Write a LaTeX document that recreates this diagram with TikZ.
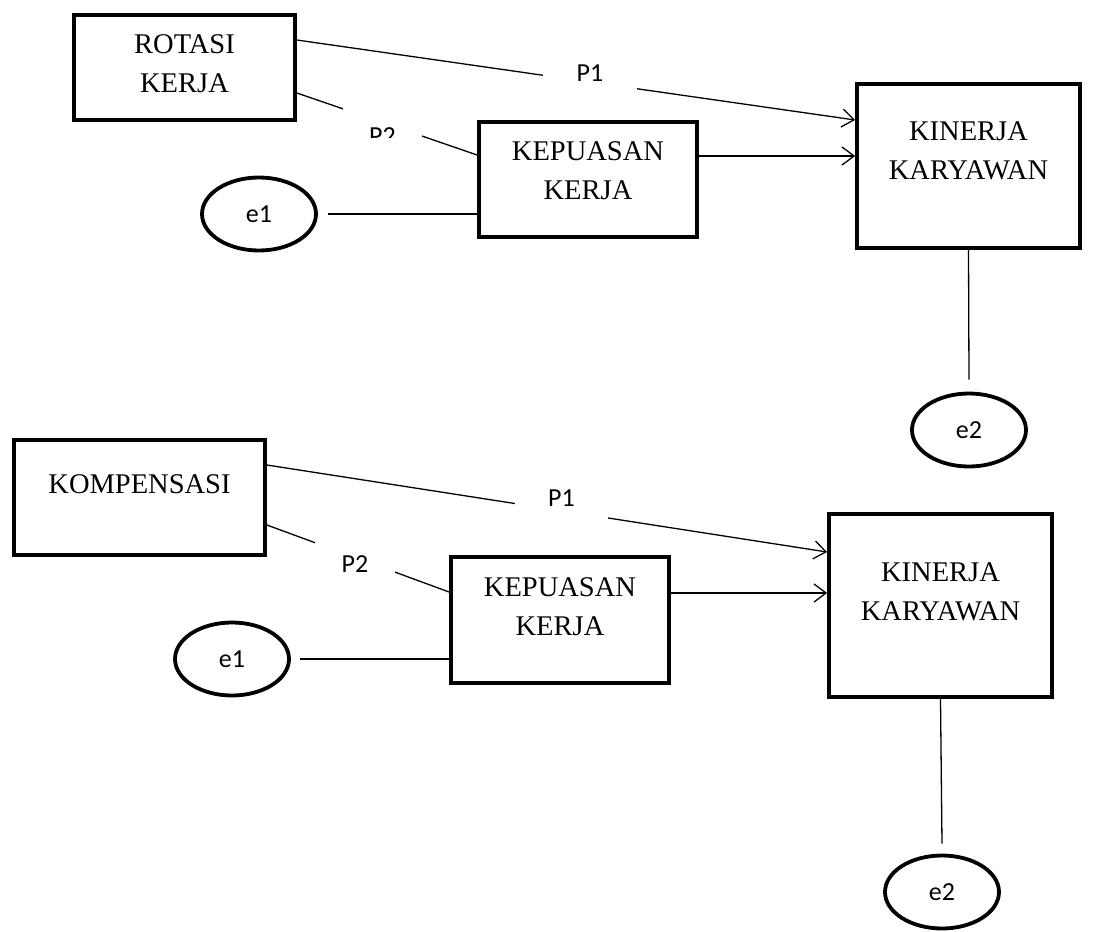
\documentclass[tikz,border=0pt]{standalone}
\usepackage{fontspec}
\setmainfont{Liberation Serif}
\newfontfamily\labelfont{Carlito}
\usetikzlibrary{arrows.meta,shapes.geometric}

\begin{document}
\begin{tikzpicture}[x=1pt,y=-1pt,
  varbox/.style={draw, line width=3.8pt, inner sep=0pt},
  vartext/.style={align=center, font=\fontsize{28.5}{39}\selectfont},
  errnode/.style={draw, ellipse, line width=3.8pt, minimum width=114pt, minimum height=73pt, inner sep=0pt, font=\labelfont\fontsize{26}{30}\selectfont},
  conn/.style={line width=1.3pt},
  arr/.style={conn, -{Straight Barb[length=12pt,width=18pt]}},
  plabel/.style={fill=white, inner sep=0pt, font=\labelfont\fontsize{26}{30}\selectfont}]
\useasboundingbox (0,0) rectangle (1109,932);

% model 1
\node[varbox, minimum width=221pt, minimum height=105pt] (rot) at (184.5,67.5) {};
\node[vartext] (rotlbl) at (184.5,64) {ROTASI\\KERJA};
\node[varbox, minimum width=218pt, minimum height=115pt] (kep1) at (588,179.5) {};
\node[vartext] (kep1lbl) at (588,170.5) {KEPUASAN\\KERJA};
\node[varbox, minimum width=223pt, minimum height=164pt] (kin1) at (968.5,166) {};
\node[vartext] (kin1lbl) at (968.5,151) {KINERJA\\KARYAWAN};
\node[errnode] (e1a) at (259,214) {e1};
\node[errnode] (e2a) at (969,430) {e2};

\draw[arr] ([yshift=27.5pt]rot.east) -- ([yshift=46pt]kin1.west);
\draw[conn] ([yshift=-25.5pt]rot.east) -- ([yshift=24.5pt]kep1.west);
\coordinate (k1out) at ([yshift=23.5pt]kep1.east);
\draw[arr] (k1out) -- (k1out -| kin1.west);
\coordinate (e1aout) at ([xshift=10pt]e1a.east);
\draw[conn] (e1aout) -- (e1aout -| kep1.west);
\draw[conn] (kin1.south) -- ([yshift=12pt]e2a.north);

\node[plabel, minimum width=94pt, minimum height=48pt] (p1a) at (590,73) {P1};
\begin{scope}
\clip (330,95) rectangle (435,137.5);
\node[plabel, minimum width=79pt, minimum height=64pt] (p2a) at (382.5,136.5) {P2};
\end{scope}

% model 2
\node[varbox, minimum width=251pt, minimum height=115pt] (komp) at (139.5,497.5) {};
\node[vartext] (komplbl) at (139.5,484) {KOMPENSASI};
\node[varbox, minimum width=218pt, minimum height=126pt] (kep2) at (560,620) {};
\node[vartext] (kep2lbl) at (560,606.5) {KEPUASAN\\KERJA};
\node[varbox, minimum width=223pt, minimum height=183pt] (kin2) at (940.5,605.5) {};
\node[vartext] (kin2lbl) at (940.5,592) {KINERJA\\KARYAWAN};
\node[errnode] (e1b) at (232,659) {e1};
\node[errnode] (e2b) at (942,892) {e2};

\draw[arr] ([yshift=32.5pt]komp.east) -- ([yshift=53.5pt]kin2.west);
\draw[conn] ([yshift=-27.5pt]komp.east) -- ([yshift=28pt]kep2.west);
\coordinate (k2out) at ([yshift=27pt]kep2.east);
\draw[arr] (k2out) -- (k2out -| kin2.west);
\coordinate (e1bout) at ([xshift=9pt]e1b.east);
\draw[conn] (e1bout) -- (e1bout -| kep2.west);
\draw[conn] (kin2.south) -- ([yshift=10pt]e2b.north);

\node[plabel, minimum width=93pt, minimum height=50pt] (p1b) at (561.5,498) {P1};
\node[plabel, minimum width=80pt, minimum height=50pt] (p2b) at (355,564) {P2};
\end{tikzpicture}
\end{document}
